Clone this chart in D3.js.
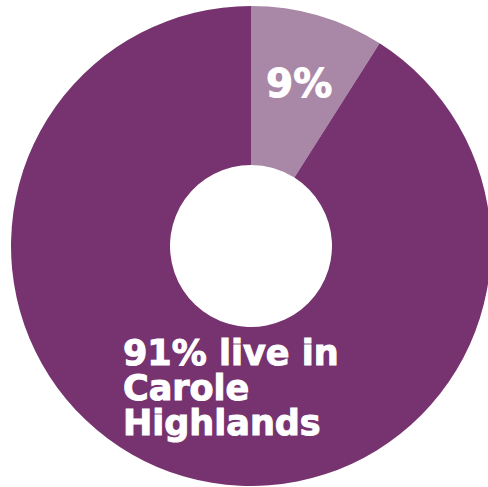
<!DOCTYPE html>
<html><head><meta charset="utf-8">
<script src="https://cdn.jsdelivr.net/npm/d3@7"></script>
<style>html,body{margin:0;padding:0;background:#fff;}svg{display:block;}</style>
</head><body>
<svg id="c" width="488" height="487"></svg>
<script>
const categories = ["Elsewhere", "Carole Highlands"];
const values = [9, 91];
const colors = ["#a987a7", "#77336f"];
const labelLines = [["9%"], ["91% live in", "Carole", "Highlands"]];

const svg = d3.select("#c");
const cx = 251, cy = 246, R = 240, r = 81;
const g = svg.append("g").attr("transform", `translate(${cx},${cy})`);
const pie = d3.pie().sort(null).value(d => d)(values);
const arc = d3.arc().innerRadius(r).outerRadius(R);
g.selectAll("path").data(pie).join("path")
  .attr("d", arc).attr("fill", (d, i) => colors[i]);

const font = "'DejaVu Sans', sans-serif";
// small slice label
svg.append("text").attr("x", 266).attr("y", 97)
  .attr("font-family", font).attr("font-weight", 700).attr("font-size", 39)
  .attr("fill", "#fff").attr("stroke", "#fff").attr("stroke-width", 1)
  .text(labelLines[0][0]);
// big slice label
labelLines[1].forEach((s, i) => {
  svg.append("text").attr("x", 123).attr("y", 365 + i * 35)
    .attr("font-family", font).attr("font-weight", 700).attr("font-size", 35)
    .attr("fill", "#fff").attr("stroke", "#fff").attr("stroke-width", 1)
    .text(s);
});
</script>
</body></html>
